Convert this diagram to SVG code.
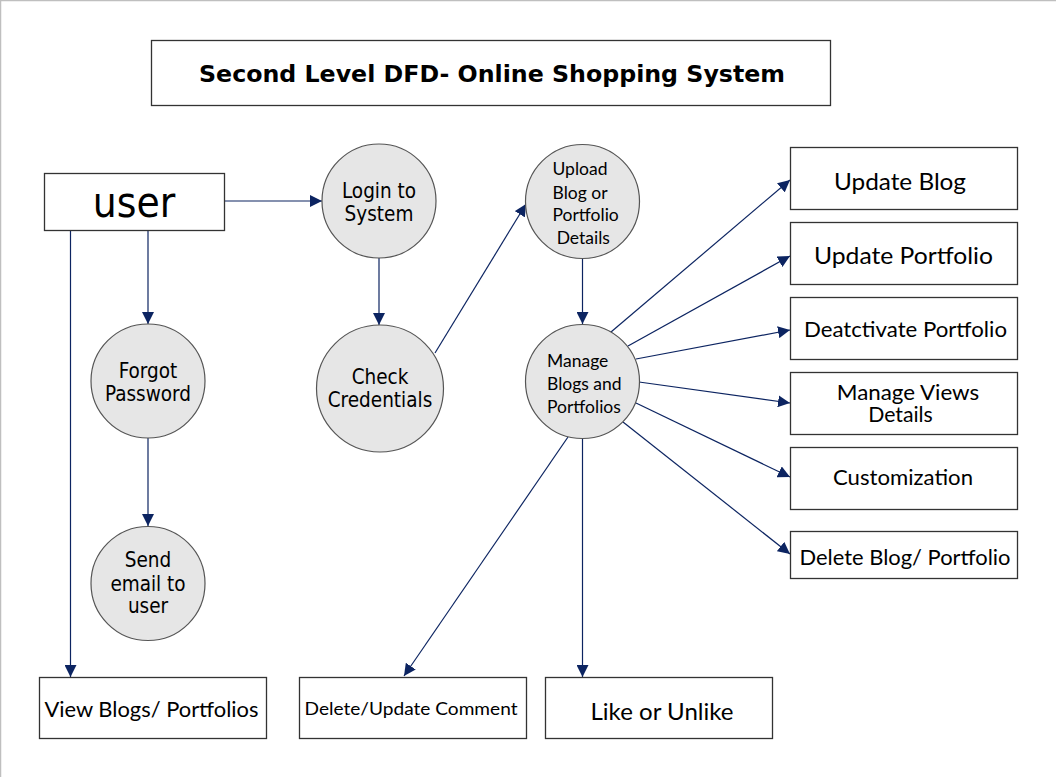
<svg xmlns="http://www.w3.org/2000/svg" width="1056" height="777" viewBox="0 0 1056 777">
<style>
.box{fill:#ffffff;stroke:#333333;stroke-width:1.3}
.proc{fill:#e6e6e6;stroke:#555555;stroke-width:1.2}
.t1{font-family:"DejaVu Sans","Verdana",sans-serif;font-stretch:semi-condensed;fill:#000000;text-anchor:middle}
.t2{font-family:Lato,"Open Sans",sans-serif;fill:#000000}
.mid{text-anchor:middle}
.flow{stroke:#0c2461;stroke-width:1.2;fill:none;marker-end:url(#ah)}
</style>
<defs>
<marker id="ah" markerUnits="userSpaceOnUse" markerWidth="13" markerHeight="12" refX="12" refY="6" orient="auto">
<path d="M0,0 L12,6 L0,12 z" fill="#0c2461"/>
</marker>
</defs>
<rect x="0" y="0" width="1056" height="777" fill="#ffffff"/>
<path d="M0.5,777 V0.5 H1056" fill="none" stroke="#bfbfbf" stroke-width="1.5"/>

<g id="title">
<rect class="box" x="151.5" y="40.5" width="679" height="65"/>
<text x="492" y="82" font-family="DejaVu Sans,Verdana,sans-serif" font-weight="bold" font-size="23" text-anchor="middle" textLength="586" lengthAdjust="spacingAndGlyphs">Second Level DFD- Online Shopping System</text>
</g>

<g id="connectors">
<line class="flow" x1="224" y1="201" x2="322" y2="201"/>
<line class="flow" x1="148" y1="231" x2="148" y2="324"/>
<line class="flow" x1="70.5" y1="231" x2="70.5" y2="677"/>
<line class="flow" x1="379" y1="258" x2="379" y2="325"/>
<line class="flow" x1="148" y1="438" x2="148" y2="526"/>
<line class="flow" x1="435" y1="353" x2="526" y2="204"/>
<line class="flow" x1="582.5" y1="258" x2="582.5" y2="324"/>
<line class="flow" x1="611" y1="332" x2="790" y2="180"/>
<line class="flow" x1="628" y1="346" x2="790" y2="256"/>
<line class="flow" x1="636" y1="359" x2="790" y2="330"/>
<line class="flow" x1="639" y1="382" x2="790" y2="403"/>
<line class="flow" x1="636" y1="403" x2="790" y2="477"/>
<line class="flow" x1="623" y1="422" x2="790" y2="554"/>
<line class="flow" x1="582.5" y1="438" x2="582.5" y2="677"/>
<line class="flow" x1="568" y1="437" x2="404" y2="676"/>
</g>

<g id="user">
<rect class="box" x="44.5" y="173.5" width="180" height="57"/>
<text class="t1" x="134" y="217" font-size="42">user</text>
</g>

<g id="login">
<circle class="proc" cx="379" cy="201" r="57"/>
<text class="t1" x="379" y="198" font-size="20.5">Login to</text>
<text class="t1" x="379" y="221" font-size="20.5">System</text>
</g>

<g id="forgot">
<circle class="proc" cx="148" cy="381" r="57"/>
<text class="t1" x="148" y="378" font-size="20.5">Forgot</text>
<text class="t1" x="148" y="401" font-size="20.5">Password</text>
</g>

<g id="check">
<circle class="proc" cx="380" cy="388.5" r="63.5"/>
<text class="t1" x="380" y="384" font-size="20.5">Check</text>
<text class="t1" x="380" y="407" font-size="20.5">Credentials</text>
</g>

<g id="send">
<circle class="proc" cx="148" cy="583.5" r="57"/>
<text class="t1" x="148" y="567" font-size="20.5">Send</text>
<text class="t1" x="148" y="591" font-size="20.5">email to</text>
<text class="t1" x="148" y="613" font-size="20.5">user</text>
</g>

<g id="upload">
<circle class="proc" cx="582.5" cy="201.5" r="57"/>
<text class="t2" x="552.5" y="175" font-size="17.5">Upload</text>
<text class="t2" x="552.5" y="198.5" font-size="17.5">Blog or</text>
<text class="t2" x="552.5" y="221" font-size="17.5">Portfolio</text>
<text class="t2" x="556.7" y="244" font-size="17.5">Details</text>
</g>

<g id="manage">
<circle class="proc" cx="582.5" cy="381.5" r="57"/>
<text class="t2" x="547" y="367" font-size="17.5">Manage</text>
<text class="t2" x="547" y="390" font-size="17.5">Blogs and</text>
<text class="t2" x="547" y="413" font-size="17.5">Portfolios</text>
</g>

<g id="update-blog">
<rect class="box" x="790.5" y="147.5" width="227" height="62"/>
<text class="t2 mid" x="900" y="190" font-size="23" textLength="132" lengthAdjust="spacingAndGlyphs">Update Blog</text>
</g>

<g id="update-portfolio">
<rect class="box" x="790.5" y="222.5" width="227" height="62"/>
<text class="t2 mid" x="903.5" y="263.5" font-size="23" textLength="179" lengthAdjust="spacingAndGlyphs">Update Portfolio</text>
</g>

<g id="deactivate">
<rect class="box" x="790.5" y="297.5" width="227" height="62"/>
<text class="t2 mid" x="905.5" y="337" font-size="20.5" textLength="203" lengthAdjust="spacingAndGlyphs">Deatctivate Portfolio</text>
</g>

<g id="manage-views">
<rect class="box" x="790.5" y="372.5" width="227" height="62"/>
<text class="t2 mid" x="908" y="399.5" font-size="20.5" textLength="142.5" lengthAdjust="spacingAndGlyphs">Manage Views</text>
<text class="t2 mid" x="900.5" y="422" font-size="20.5" textLength="64.6" lengthAdjust="spacingAndGlyphs">Details</text>
</g>

<g id="customization">
<rect class="box" x="790.5" y="447.5" width="227" height="62"/>
<text class="t2 mid" x="903" y="484.5" font-size="20.5" textLength="140" lengthAdjust="spacingAndGlyphs">Customization</text>
</g>

<g id="delete-blog">
<rect class="box" x="790.5" y="531.5" width="227" height="47"/>
<text class="t2 mid" x="905" y="565" font-size="21" textLength="211" lengthAdjust="spacingAndGlyphs">Delete Blog/ Portfolio</text>
</g>

<g id="view-blogs">
<rect class="box" x="39.5" y="677.5" width="227" height="61"/>
<text class="t2 mid" x="151.5" y="717" font-size="21" textLength="214" lengthAdjust="spacingAndGlyphs">View Blogs/ Portfolios</text>
</g>

<g id="delete-comment">
<rect class="box" x="299.5" y="677.5" width="227" height="61"/>
<text class="t2 mid" x="411" y="715" font-size="17.5" textLength="213" lengthAdjust="spacingAndGlyphs">Delete/Update Comment</text>
</g>

<g id="like">
<rect class="box" x="545.5" y="677.5" width="227" height="61"/>
<text class="t2 mid" x="662" y="720" font-size="24" textLength="143" lengthAdjust="spacingAndGlyphs">Like or Unlike</text>
</g>
</svg>
